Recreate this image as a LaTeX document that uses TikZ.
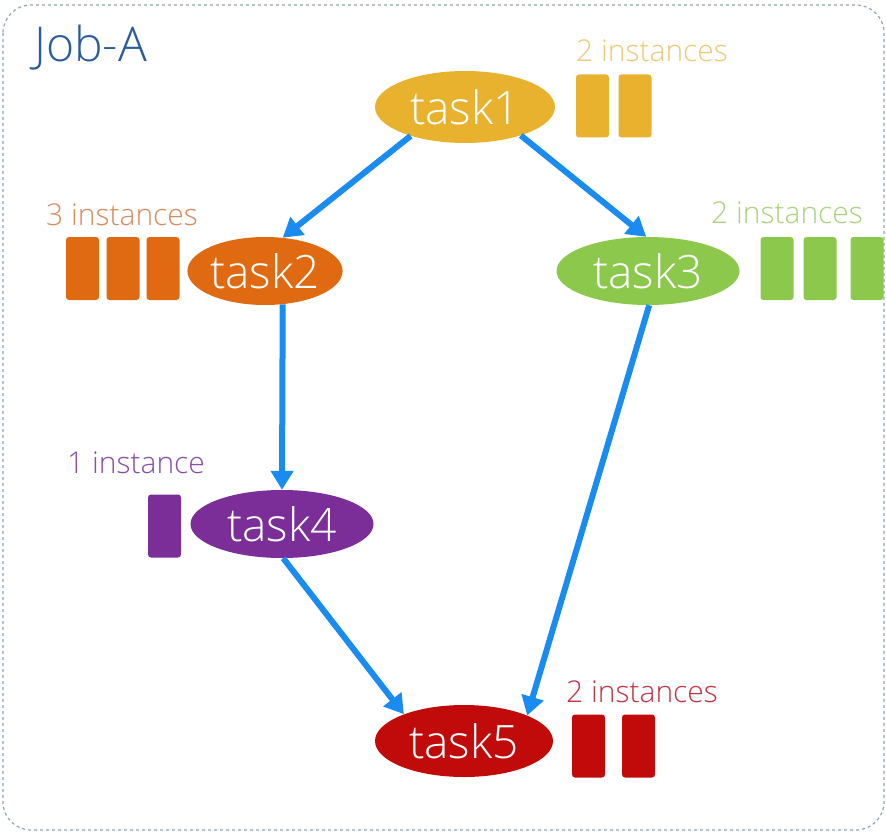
\documentclass[tikz,border=0pt]{standalone}
\usepackage{fontspec}
\setmainfont{Open Sans Light}
\usetikzlibrary{shapes.geometric, arrows.meta}
\definecolor{job-blue}{HTML}{2B5C9A}
\definecolor{frame-gray}{HTML}{8FA3B8}
\definecolor{flow-blue}{HTML}{1A8CF0}
\definecolor{task-gold}{HTML}{E8B22F}
\definecolor{task-orange}{HTML}{DF6A12}
\definecolor{task-green}{HTML}{8CC84B}
\definecolor{task-purple}{HTML}{7B2D98}
\definecolor{task-red}{HTML}{C10A0A}
\definecolor{note-gold}{HTML}{EDC878}
\definecolor{note-orange}{HTML}{D98A5C}
\definecolor{note-green}{HTML}{A9D37C}
\definecolor{note-purple}{HTML}{8A4DAA}
\definecolor{note-red}{HTML}{C23445}

\begin{document}
\begin{tikzpicture}[x=1pt, y=-1pt,
      task/.style={ellipse, minimum width=180pt, minimum height=72pt,
        inner sep=0pt, text=white, font=\fontsize{46}{54}\selectfont},
      inst/.style={rectangle, rounded corners=3pt, minimum width=33pt,
        minimum height=63pt, inner sep=0pt},
      note/.style={anchor=base west, inner sep=0pt,
        font=\fontsize{30}{36}\selectfont},
      flow/.style={line width=6pt, flow-blue,
        -{Triangle[length=19pt, width=22pt]}}]
    \useasboundingbox (0,0) rectangle (886,832);
    \draw[frame-gray, dashed, line width=1.2pt, rounded corners=28pt]
          (3,5) rectangle (884,830);
    \node[note, text=job-blue, font=\fontsize{48}{56}\selectfont]
          (job) at (34,62) {Job-A};

    % tasks
    \node[task, fill=task-gold]   (task1) at (465,107) {task1};
    \node[task, fill=task-orange, minimum width=152pt, minimum height=68pt]
          (task2) at (265,271) {task2};
    \node[task, fill=task-green, minimum width=183pt, minimum height=68pt]
          (task3) at (648,271) {task3};
    \node[task, fill=task-purple, minimum width=183pt, minimum height=68pt]
          (task4) at (282,524) {task4};
    \node[task, fill=task-red, minimum width=178pt]
          (task5) at (464,741) {task5};

    % instances
    \node[note, text=note-gold]   (n1) at (576,62)  {2 instances};
    \foreach \x [count=\k] in {592.5,635}
      \node[inst, fill=task-gold] (i1-\k) at (\x,106) {};
    \node[note, text=note-orange] (n2) at (46,225)  {3 instances};
    \foreach \x [count=\k] in {82.5,123,163}
      \node[inst, fill=task-orange] (i2-\k) at (\x,268.5) {};
    \node[note, text=note-green]  (n3) at (711,223) {2 instances};
    \foreach \x [count=\k] in {777,820,867}
      \node[inst, fill=task-green] (i3-\k) at (\x,268.5) {};
    \node[note, text=note-purple] (n4) at (67,473)  {1 instance};
    \node[inst, fill=task-purple] (i4-1) at (164.5,526) {};
    \node[note, text=note-red]    (n5) at (566,702) {2 instances};
    \foreach \x [count=\k] in {588.5,638.5}
      \node[inst, fill=task-red] (i5-\k) at (\x,746) {};

    % flow
    \draw[flow] (task1.-152) -- (task2.62);
    \draw[flow] (task1.-27) -- (task3.93);
    \draw[flow] (task2.-62) -- (task4.north);
    \draw[flow] (task4.-88) -- (task5.156);
    \draw[flow] (task3.-88) -- (task5.22);
  \end{tikzpicture}
\end{document}
